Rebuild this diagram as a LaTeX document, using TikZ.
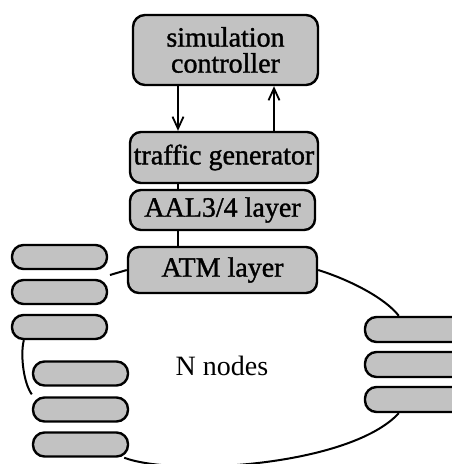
\documentclass[tikz,border=0pt]{standalone}
\usepackage{fontspec}
\setmainfont{Liberation Serif}[BoldFont={Liberation Serif},BoldFeatures={FakeBold=1.2}]
\usetikzlibrary{arrows.meta}
\begin{document}
\begin{tikzpicture}[x=1pt,y=-1pt,
  box/.style={draw=black,line width=2.4pt,fill=black!24,rounded corners=12pt,inner sep=0pt,
    font=\fontsize{28}{26}\selectfont\bfseries,align=center},
  pill/.style={draw=black,line width=2.4pt,fill=black!24,rounded corners=11.5pt,inner sep=0pt,
    minimum width=95pt,minimum height=24pt},
  link/.style={line width=2pt},
  arr/.style={line width=2pt,-{Straight Barb[length=12pt,width=11pt,line width=1.8pt]}}]
\clip (0,0) rectangle (452,464);
\fill[white] (0,0) rectangle (452,464);
\coordinate (g1) at (110,275);
% nodes
\node[box,minimum width=185pt,minimum height=70pt] (sim) at (225.5,50) {simulation\\controller};
\node[box,minimum width=188pt,minimum height=51pt,rounded corners=11pt] (tg) at (224,157.5) {traffic generator};
\node[box,minimum width=185pt,minimum height=40pt,rounded corners=11pt] (aal) at (222.5,210) {AAL3/4 layer};
\node[box,minimum width=189pt,minimum height=46pt,rounded corners=11pt] (atm) at (222.5,270) {ATM layer};
\node[pill] (l1) at (59.5,257) {};
\node[pill] (l2) at (59.5,292) {};
\node[pill] (l3) at (59.5,327) {};
\node[pill] (m1) at (80.5,373.5) {};
\node[pill] (m2) at (80.5,409.5) {};
\node[pill] (m3) at (80.5,444.5) {};
\node[pill,minimum width=110pt,minimum height=25pt] (r1) at (420,329.5) {};
\node[pill,minimum width=110pt,minimum height=25pt] (r2) at (420,364.5) {};
\node[pill,minimum width=110pt,minimum height=25pt] (r3) at (420,399.5) {};
\node[font=\fontsize{28}{30}\selectfont] (n) at (222,366) {N nodes};
% connectors
\draw[arr] (sim.south -| 178,0) -- (tg.north -| 178,0);
\draw[arr] (tg.north -| 274,0) -- (sim.south -| 274,0);
\draw[link] (tg.south -| 178,0) -- (aal.north -| 178,0);
\draw[link] (aal.south -| 178,0) -- (atm.north -| 178,0);
\draw[link] (atm.west) -- (g1);
\draw[link] ([xshift=13pt]l3.south west) .. controls (20,356) and (24,384) .. ([yshift=2pt]m2.north west);
\draw[link] ([xshift=-5pt]m3.south east) .. controls (175,477) and (350,466) .. ([xshift=35pt]r3.south west);
\draw[link] (atm.east) .. controls (350,280) and (385,298) .. ([xshift=35pt]r1.north west);
\end{tikzpicture}
\end{document}
